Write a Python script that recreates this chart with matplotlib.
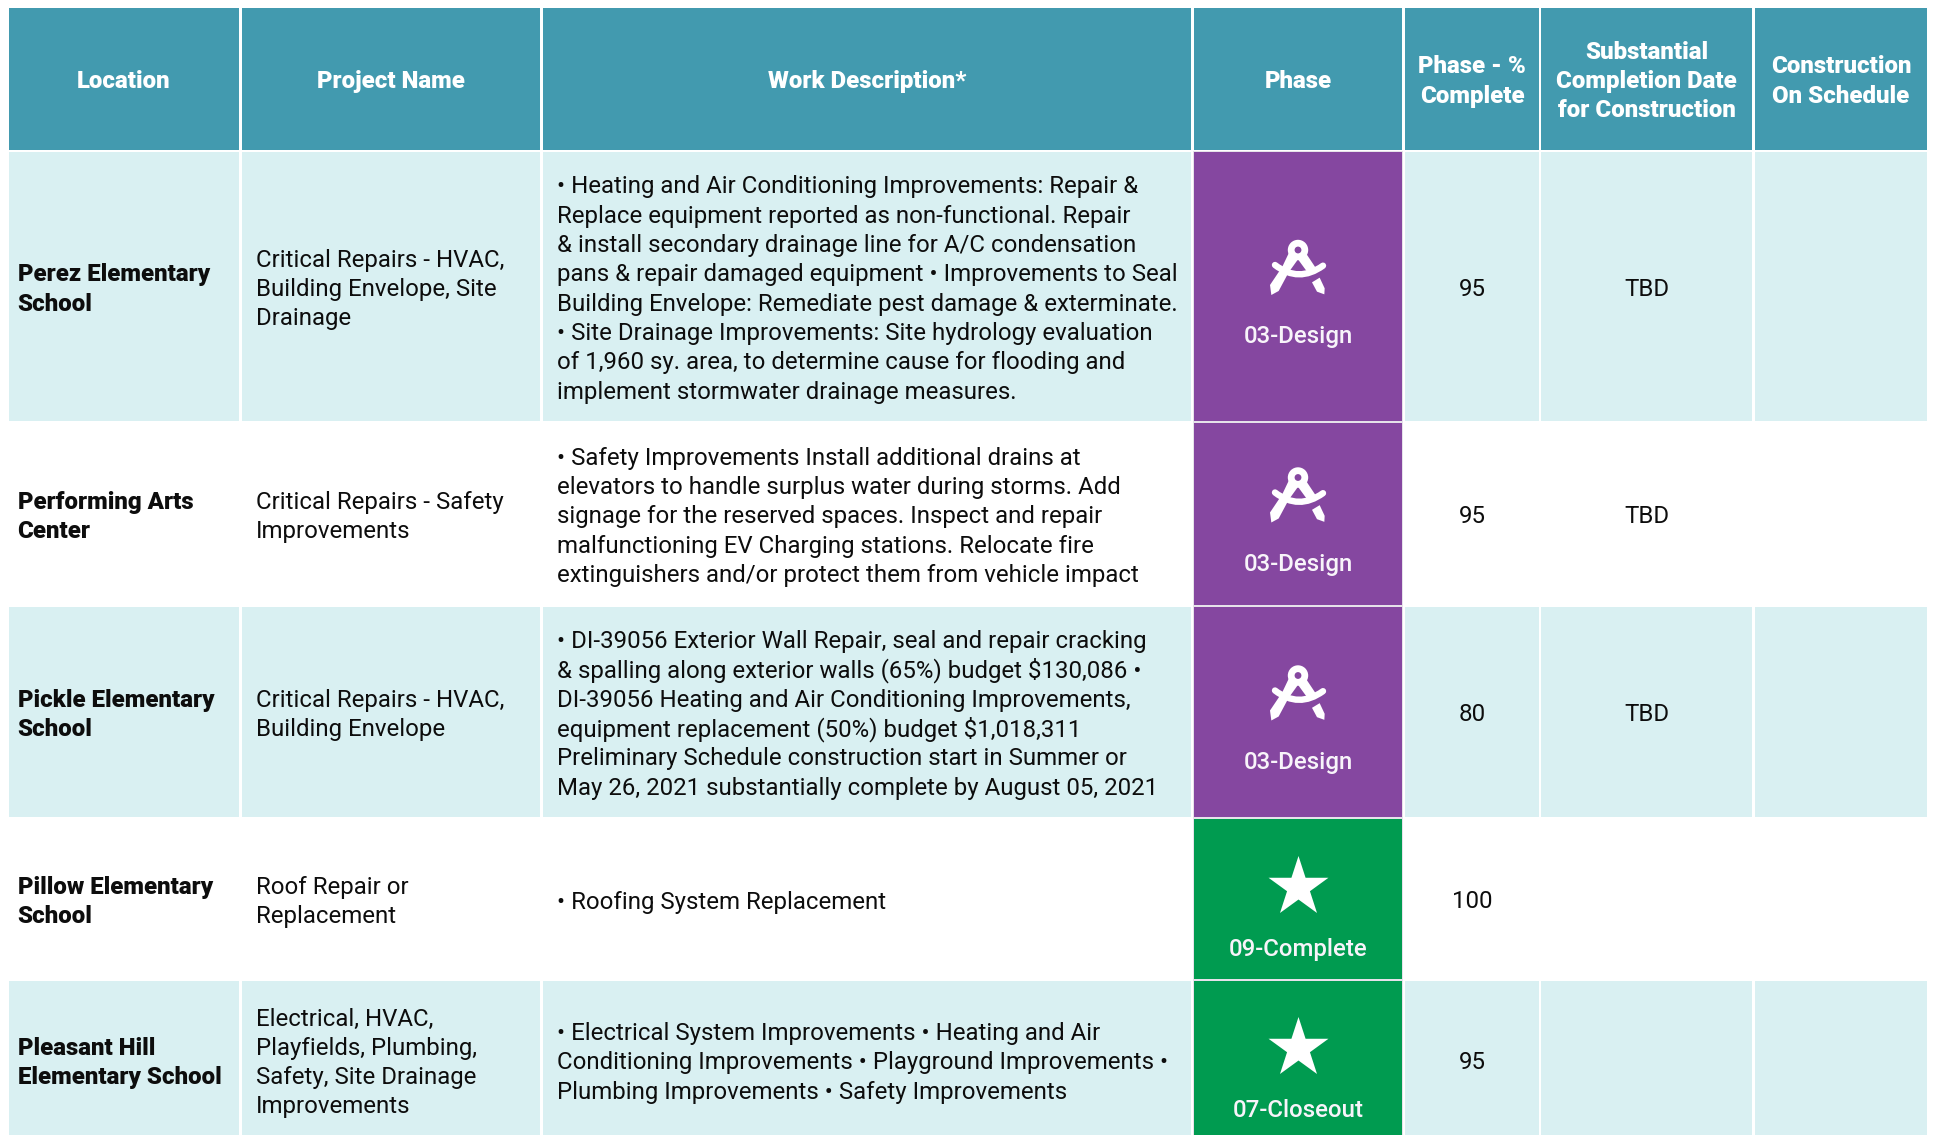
# table of school projects, drawn in pixel coordinates
import matplotlib
matplotlib.use('Agg')
import matplotlib.pyplot as plt
from matplotlib.patches import Rectangle, Polygon, PathPatch, Circle
from matplotlib.path import Path

plt.rcParams['font.family'] = ['Roboto', 'DejaVu Sans']

headers = [['Location'], ['Project Name'], ['Work Description*'], ['Phase'],
           ['Phase - %', 'Complete'],
           ['Substantial', 'Completion Date', 'for Construction'],
           ['Construction', 'On Schedule']]
locations = [['Perez Elementary', 'School'],
             ['Performing Arts', 'Center'],
             ['Pickle Elementary', 'School'],
             ['Pillow Elementary', 'School'],
             ['Pleasant Hill', 'Elementary School']]
projects = [['Critical Repairs - HVAC,', 'Building Envelope, Site', 'Drainage'],
            ['Critical Repairs - Safety', 'Improvements'],
            ['Critical Repairs - HVAC,', 'Building Envelope'],
            ['Roof Repair or', 'Replacement'],
            ['Electrical, HVAC,', 'Playfields, Plumbing,', 'Safety, Site Drainage', 'Improvements']]
descriptions = [
    ['• Heating and Air Conditioning Improvements: Repair &',
     'Replace equipment reported as non-functional. Repair',
     '& install secondary drainage line for A/C condensation',
     'pans & repair damaged equipment • Improvements to Seal',
     'Building Envelope: Remediate pest damage & exterminate.',
     '• Site Drainage Improvements: Site hydrology evaluation',
     'of 1,960 sy. area, to determine cause for flooding and',
     'implement stormwater drainage measures.'],
    ['• Safety Improvements Install additional drains at',
     'elevators to handle surplus water during storms. Add',
     'signage for the reserved spaces. Inspect and repair',
     'malfunctioning EV Charging stations. Relocate fire',
     'extinguishers and/or protect them from vehicle impact'],
    ['• DI-39056 Exterior Wall Repair, seal and repair cracking',
     '& spalling along exterior walls (65%) budget $130,086 •',
     'DI-39056 Heating and Air Conditioning Improvements,',
     'equipment replacement (50%) budget $1,018,311',
     'Preliminary Schedule construction start in Summer or',
     'May 26, 2021 substantially complete by August 05, 2021'],
    ['• Roofing System Replacement'],
    ['• Electrical System Improvements • Heating and Air',
     'Conditioning Improvements • Playground Improvements •',
     'Plumbing Improvements • Safety Improvements']]
phases = ['03-Design', '03-Design', '03-Design', '09-Complete', '07-Closeout']
percents = ['95', '95', '80', '100', '95']
dates = ['TBD', 'TBD', 'TBD', '', '']

# layout, in px of the 1935x1135 picture
col_left = [8.5, 242, 543, 1194, 1405, 1541, 1755]
col_right = [239, 540, 1191, 1402, 1539, 1752, 1927]
text_x = [17.5, 256, 557]
row_top = [152, 423, 607, 819, 981]
row_bottom = [421, 605, 817, 979, 1139]
head_top, head_bottom = 7.5, 150
line_h = 29.3
fs = 17.25

TEAL = '#429AAF'
LIGHT = '#D9F0F2'
PURPLE = '#8547A0'
GREEN = '#009B50'
EDGE = '#E6E2EA'
INK = '#0D0D0D'

fig = plt.figure(figsize=(19.35, 11.35), dpi=100, facecolor='white')
ax = fig.add_axes([0, 0, 1, 1])
ax.set_xlim(0, 1935)
ax.set_ylim(1135, 0)
ax.axis('off')


def box(x0, x1, y0, y1, color):
    ax.add_patch(Rectangle((x0, y0), x1 - x0, y1 - y0, fc=color, ec='none', lw=0))


def lines(x, yc, rows, ha='left', color=INK, weight='normal', size=fs):
    # one text per line so the spacing is the same as the html table
    for i, s in enumerate(rows):
        y = yc + 9.5 + (i - (len(rows) - 1) / 2) * line_h
        ax.text(x, y, s, ha=ha, va='baseline', color=color, fontweight=weight, fontsize=size)


def compass(xc, yc):
    # icon drawn around the centre of its ring
    def pts(p):
        return [(xc + (a - 113) / 3, yc + (b - 75) / 3) for a, b in p]
    ax.add_patch(Polygon(pts([(85, 85), (66, 125), (29, 180), (33, 210), (55, 198),
                              (85, 142), (113, 103), (100, 70)]), fc='white', ec='none'))
    ax.add_patch(Polygon(pts([(137, 85), (167, 130), (140, 140), (113, 103), (115, 70)]), fc='white', ec='none'))
    ax.add_patch(Polygon(pts([(155, 172), (178, 158), (193, 190), (192, 208), (170, 200)]), fc='white', ec='none'))
    arc = Path(pts([(44, 120), (115, 175), (188, 122)]), [Path.MOVETO, Path.CURVE3, Path.CURVE3])
    ax.add_patch(PathPatch(arc, fc='none', ec='white', lw=4.6, capstyle='round'))
    ax.add_patch(Circle((xc, yc), 10.2, fc='white', ec='none'))
    ax.add_patch(Circle((xc, yc), 3.4, fc=PURPLE, ec='none'))


for j, head in enumerate(headers):
    box(col_left[j], col_right[j], head_top, head_bottom, TEAL)
    lines((col_left[j] + col_right[j]) / 2, 78.5, head, ha='center', color='white', weight='black')

for i in range(len(locations)):
    top, bottom = row_top[i], row_bottom[i]
    yc = (top + bottom) / 2
    if i % 2 == 0 or i == 4:
        for j in range(7):
            if j != 3:
                box(col_left[j], col_right[j], top, bottom, LIGHT)
    lines(text_x[0], yc, locations[i], weight='black')
    lines(text_x[1], yc, projects[i])
    lines(text_x[2], yc, descriptions[i])

    done = phases[i][:2] != '03'
    box(col_left[3] - 1, col_right[3] + 1, top - 1, bottom + 1, EDGE)
    box(col_left[3], col_right[3], top, bottom, GREEN if done else PURPLE)
    xm = (col_left[3] + col_right[3]) / 2
    if done:
        ax.scatter([xm], [yc - 12.5], marker='*', s=2058, c='white', linewidths=0, zorder=3)
    else:
        compass(xm, yc - 36.5)
    lines(xm, yc + 47.5, [phases[i]], ha='center', color='#F8F4FA', weight='medium')

    lines((col_left[4] + col_right[4]) / 2, yc - 0.5, [percents[i]], ha='center')
    lines((col_left[5] + col_right[5]) / 2, yc - 0.5, [dates[i]], ha='center')

fig.savefig('out.png', dpi=100)
